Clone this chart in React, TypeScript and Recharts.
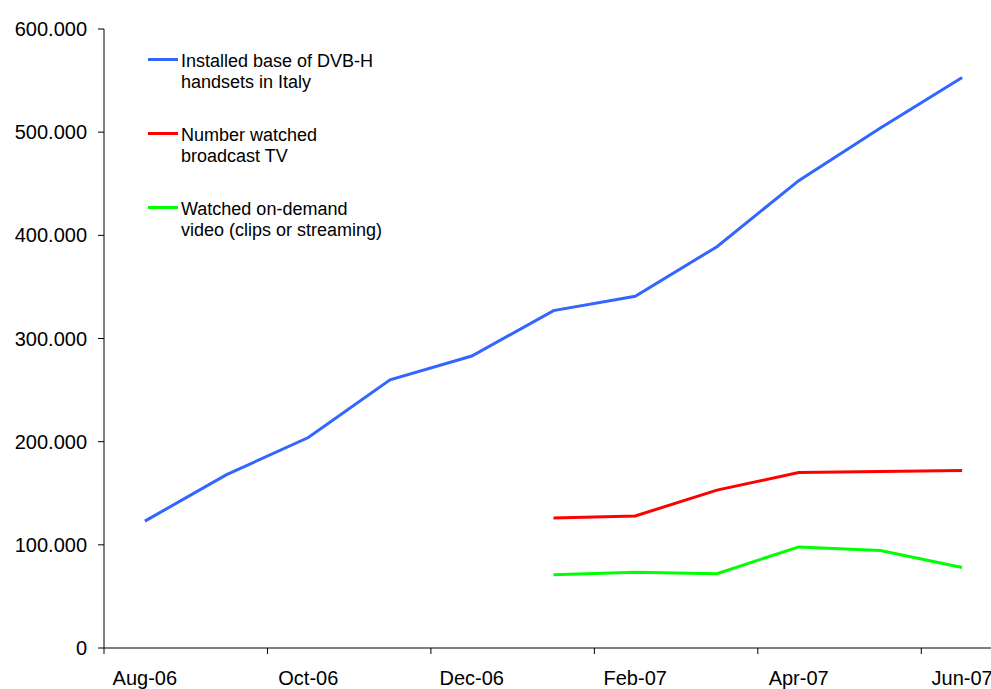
import { ComposedChart, Legend, Line, XAxis, YAxis } from "recharts";

const months = [
  "Aug-06",
  "Sep-06",
  "Oct-06",
  "Nov-06",
  "Dec-06",
  "Jan-07",
  "Feb-07",
  "Mar-07",
  "Apr-07",
  "May-07",
  "Jun-07",
];

const installedBase = [
  123000, 168000, 204000, 260000, 283000, 327000, 341000, 389000, 453000,
  504000, 553000,
];

const watchedBroadcast = [
  null, null, null, null, null, 126000, 128000, 153000, 170000, 171000, 172000,
];

const watchedOnDemand = [
  null, null, null, null, null, 71000, 73500, 72000, 98000, 94500, 78000,
];

const yTicks = [0, 100000, 200000, 300000, 400000, 500000, 600000];

const data = months.map((month, i) => ({
  month,
  installed: installedBase[i],
  broadcast: watchedBroadcast[i],
  onDemand: watchedOnDemand[i],
}));

const FONT = '"Liberation Sans", Arial, sans-serif';
const CHART_W = 1010;
const CHART_H = 689;
const MARGIN = { top: 29, right: 7, bottom: 0, left: 0 };
const Y_AXIS_W = 104;
const X_AXIS_H = 41;
const PLOT_W = CHART_W - MARGIN.left - MARGIN.right - Y_AXIS_W;
const AXIS_Y = CHART_H - MARGIN.bottom - X_AXIS_H;
const BAND = PLOT_W / months.length;

const formatThousands = (v: number) =>
  v === 0 ? "0" : v.toLocaleString("de-DE").replace(/,/g, ".");

function MonthTick(props: any) {
  const { x, payload } = props;
  const bx = x - BAND / 2;
  return (
    <g>
      <line x1={bx} y1={AXIS_Y} x2={bx} y2={AXIS_Y + 6} stroke="#000" />
      <text
        x={x}
        y={AXIS_Y + 23}
        dy="0.71em"
        textAnchor="middle"
        fontSize={20}
        fontFamily={FONT}
        fill="#000"
      >
        {payload.value}
      </text>
    </g>
  );
}

function LegendBox({ payload }: any) {
  return (
    <div style={{ fontFamily: FONT, fontSize: 18, lineHeight: "21px", color: "#000" }}>
      {(payload ?? []).map((entry: any) => (
        <div
          key={entry.value}
          style={{ position: "relative", paddingLeft: 33, marginBottom: 32, width: 208 }}
        >
          <span
            style={{
              position: "absolute",
              left: 0,
              top: 7,
              width: 30,
              height: 3,
              background: entry.color,
            }}
          />
          {entry.value}
        </div>
      ))}
    </div>
  );
}

export default function App() {
  return (
    <div
      style={{
        position: "fixed",
        left: 0,
        top: 0,
        width: 991,
        height: 689,
        overflow: "hidden",
        background: "#fff",
      }}
    >
      <ComposedChart width={CHART_W} height={CHART_H} data={data} margin={MARGIN}>
        <XAxis
          dataKey="month"
          scale="band"
          height={X_AXIS_H}
          interval={1}
          tickLine={false}
          axisLine={{ stroke: "#000" }}
          tick={<MonthTick />}
        />
        <YAxis
          width={Y_AXIS_W}
          domain={[0, 600000]}
          ticks={yTicks}
          tickFormatter={formatThousands}
          tickSize={6}
          tickMargin={11}
          axisLine={{ stroke: "#000" }}
          tickLine={{ stroke: "#000" }}
          tick={{ fill: "#000", fontSize: 20, fontFamily: FONT }}
        />
        <Legend
          layout="vertical"
          align="center"
          verticalAlign="middle"
          content={<LegendBox />}
          wrapperStyle={{ left: 148, top: 51, width: 260 }}
        />
        <Line
          dataKey="installed"
          name="Installed base of DVB-H handsets in Italy"
          stroke="#3366FF"
          strokeWidth={3}
          dot={false}
          activeDot={false}
          isAnimationActive={false}
        />
        <Line
          dataKey="broadcast"
          name="Number watched broadcast TV"
          stroke="#FF0000"
          strokeWidth={3}
          dot={false}
          activeDot={false}
          isAnimationActive={false}
        />
        <Line
          dataKey="onDemand"
          name="Watched on-demand video (clips or streaming)"
          stroke="#00FF00"
          strokeWidth={3}
          dot={false}
          activeDot={false}
          isAnimationActive={false}
        />
      </ComposedChart>
    </div>
  );
}
